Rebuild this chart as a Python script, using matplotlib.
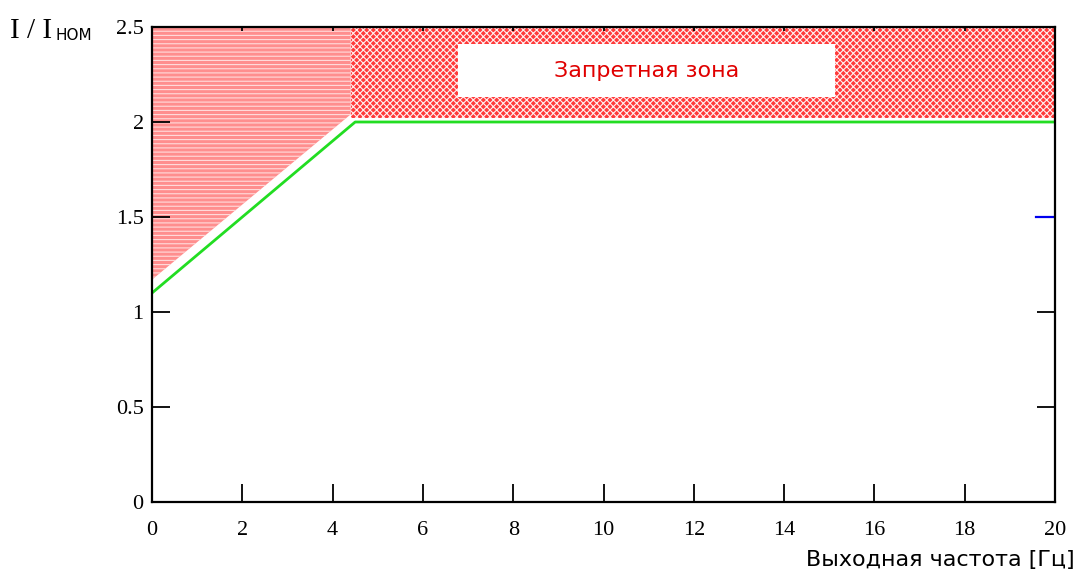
import matplotlib
matplotlib.use("Agg")
import matplotlib.pyplot as plt
import numpy as np

# boundary curve: current limit vs. output frequency
freq = [0, 4.5, 20]
limit = [1.1, 2.0, 2.0]

# forbidden zone outline (slightly above the limit)
zone_left_x = [0, 4.4, 4.4, 0]
zone_left_y = [1.17, 2.04, 2.5, 2.5]
zone_right_x = [4.4, 20, 20, 4.4]
zone_right_y = [2.02, 2.02, 2.5, 2.5]

# label box of the forbidden zone
box_x = [6.78, 15.13]
box_y = [2.13, 2.41]
zone_label = "Запретная зона"

xticks = np.arange(0, 21, 2)
yticks = [0, 0.5, 1, 1.5, 2, 2.5]

plt.rcParams['hatch.linewidth'] = 0.8

fig = plt.figure(figsize=(10.77, 5.77), dpi=100)
ax = fig.add_axes([152 / 1077, 1 - 502 / 577, 903 / 1077, 475 / 577])

ax.fill(zone_left_x, zone_left_y, facecolor='#ff8e8e', edgecolor='none')
ax.fill(zone_left_x, zone_left_y, facecolor='none', edgecolor='#ffdcdc',
        lw=0, hatch='----')
ax.fill(zone_right_x, zone_right_y, facecolor='#ff3a3a', edgecolor='none')
ax.fill(zone_right_x, zone_right_y, facecolor='none', edgecolor='#fff0f0',
        lw=0, hatch='xxxxx')
ax.fill([box_x[0], box_x[1], box_x[1], box_x[0]],
        [box_y[0], box_y[0], box_y[1], box_y[1]],
        facecolor='white', edgecolor='none')
ax.text(sum(box_x) / 2, sum(box_y) / 2, zone_label, color='#e00000',
        ha='center', va='center', fontsize=16, family='DejaVu Sans')

ax.plot(freq, limit, color='#22dd22', lw=2, solid_capstyle='butt')
ax.plot([19.58, 20], [1.5, 1.5], color='#0000ee', lw=1.6)

ax.set_xlim(0, 20)
ax.set_ylim(0, 2.5)
ax.set_xticks(xticks)
ax.set_yticks(yticks)
ax.set_yticklabels(['0', '0.5', '1', '1.5', '2', '2.5'])

for s in ax.spines.values():
    s.set_linewidth(1.6)
ax.tick_params(direction='in', length=13, width=1.3, top=True, right=True,
               labelsize=16)
ax.tick_params(axis='x', pad=14)
ax.tick_params(axis='y', pad=6)
for t in ax.xaxis.get_majorticklines()[1::2]:
    t.set_markersize(3)
for lab in ax.get_xticklabels() + ax.get_yticklabels():
    lab.set_family('Liberation Serif')

fig.text(10 / 1077, 1 - 31 / 577, "I / I", family='Liberation Serif',
         fontsize=21, ha='left', va='center')
fig.text(56 / 1077, 1 - 35 / 577, "HOM", family='DejaVu Sans',
         fontsize=11, ha='left', va='center')
fig.text(1075 / 1077, 1 - 560 / 577, "Выходная частота [Гц]",
         family='DejaVu Sans', fontsize=16, ha='right', va='center')

fig.savefig("out.png", dpi=100)
